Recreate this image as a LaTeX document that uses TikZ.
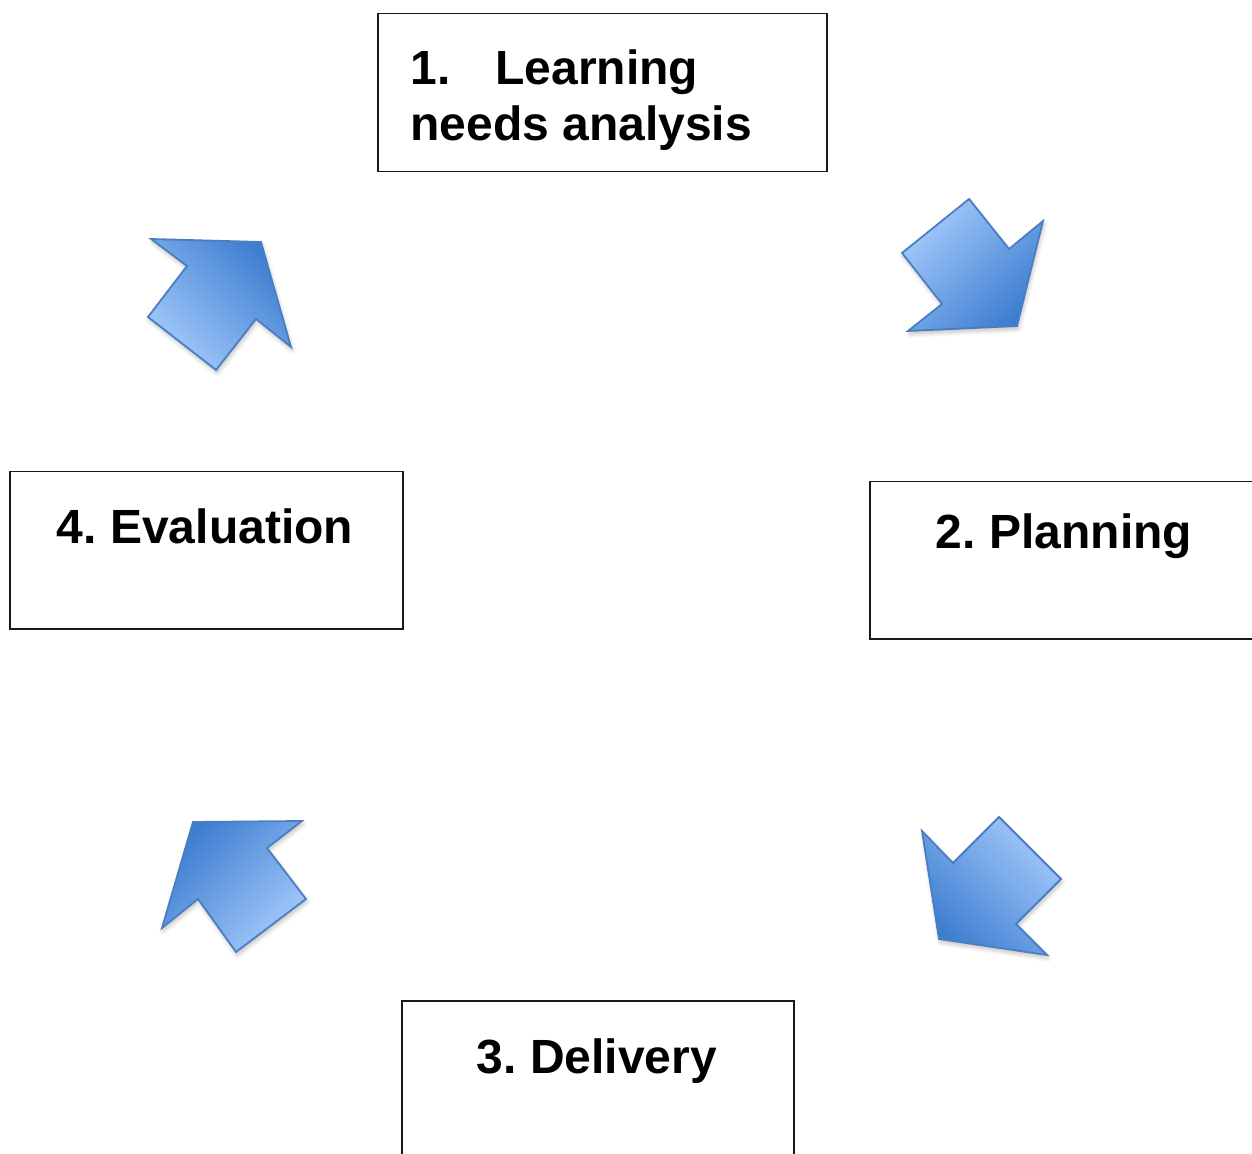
\documentclass[tikz,border=0pt]{standalone}
\usepackage{fontspec}
\setmainfont{Liberation Sans}
\usetikzlibrary{shadows.blur}
\frenchspacing

\definecolor{arrowlight}{HTML}{A3C9FB}
\definecolor{arrowdark}{HTML}{3D7DD0}
\definecolor{arrowedge}{HTML}{4A7EC0}

\tikzset{
  stagebox/.style={draw=black!90, line width=0.75pt, inner sep=0pt, anchor=north west},
  stagetext/.style={inner sep=0pt, anchor=base west, font=\fontsize{24}{28}\selectfont\bfseries},
  cyclearrow/.style={draw=arrowedge, line width=0.9pt, line join=miter,
    top color=arrowdark, bottom color=arrowlight,
    blur shadow={shadow xshift=0.6pt, shadow yshift=-1.6pt, shadow opacity=25, shadow blur steps=6}}
}

\begin{document}
\begin{tikzpicture}[x=0.5pt, y=-0.5pt]
  \useasboundingbox (0,0) rectangle (1252,1154);
  \begin{scope}
  \clip (0,0) rectangle (1252,1154);

  % the four stage boxes
  \node[stagebox, minimum width=224.5pt, minimum height=79pt] (needs) at (377,13) {};
  \node[stagebox, minimum width=196pt, minimum height=78.5pt] (planning) at (869,481) {};
  \node[stagebox, minimum width=196pt, minimum height=90pt] (delivery) at (401,1000) {};
  \node[stagebox, minimum width=196.5pt, minimum height=78.5pt] (evaluation) at (9,471) {};

  % stage labels
  \node[stagetext] (needsA) at (410,85) {\hbox to 42.5pt{1.\hfil}Learning};
  \node[stagetext] (needsB) at (410,141) {needs analysis};
  \node[stagetext, anchor=base] (planningT) at (1064,548) {2. Planning};
  \node[stagetext, anchor=base] (deliveryT) at (597,1073) {3. Delivery};
  \node[stagetext, anchor=base] (evaluationT) at (205,544) {4. Evaluation};

  % cycle arrows between the stages
  \path[cyclearrow, shading angle=-135]
    (969,199) -- (1009,249) -- (1043,221) -- (1017,326) -- (908,331) -- (942,304) -- (902,253) -- cycle;
  \path[cyclearrow, shading angle=135]
    (999,817) -- (1061,879) -- (1016,924) -- (1047,955) -- (939,939) -- (922,831) -- (953,863) -- cycle;
  \path[cyclearrow, shading angle=45]
    (193,822) -- (302,821) -- (267,848) -- (306,899) -- (236,952) -- (198,899) -- (162,928) -- cycle;
  \path[cyclearrow, shading angle=-45]
    (151,239) -- (261,242) -- (291,347) -- (256,319) -- (216,370) -- (148,317) -- (187,266) -- cycle;
  \end{scope}
\end{tikzpicture}
\end{document}
